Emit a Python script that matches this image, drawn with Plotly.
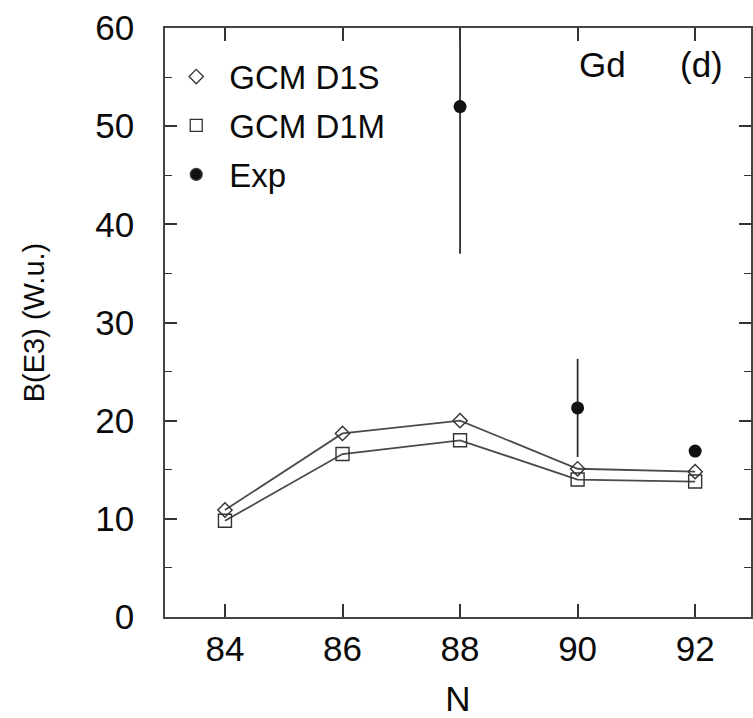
import plotly.graph_objects as go

N = [84, 86, 88, 90, 92]
gcm_d1s = [10.9, 18.7, 20.0, 15.1, 14.8]
gcm_d1m = [9.8, 16.6, 18.0, 14.0, 13.8]
exp_N = [88, 90, 92]
exp_val = [52.0, 21.3, 16.9]
exp_err = [15.0, 5.0, 0.0]

FONT = "Liberation Sans, Arial, sans-serif"
LINE = "#4a4a4a"
TXT = "#0a0a0a"

fig = go.Figure()
fig.add_trace(go.Scatter(x=N, y=gcm_d1s, mode="lines+markers", name="GCM D1S",
                         line=dict(color=LINE, width=1.8),
                         marker=dict(symbol="diamond-open", size=11, color="#333333", line=dict(width=1.4)),
                         showlegend=False))
fig.add_trace(go.Scatter(x=N, y=gcm_d1m, mode="lines+markers", name="GCM D1M",
                         line=dict(color=LINE, width=1.8),
                         marker=dict(symbol="square-open", size=13, color="#333333", line=dict(width=1.4)),
                         showlegend=False))
fig.add_trace(go.Scatter(x=exp_N, y=exp_val, mode="markers", name="Exp",
                         marker=dict(symbol="circle", size=13, color="#111111"),
                         error_y=dict(type="data", array=exp_err, visible=True, width=0,
                                      thickness=1.7, color="#222222"),
                         showlegend=False))
# legend-only entries (markers without lines)
for name, sym, sz in [("GCM D1S", "diamond-open", 11), ("GCM D1M", "square-open", 12), ("Exp", "circle", 12)]:
    fig.add_trace(go.Scatter(x=[None], y=[None], mode="markers", name=name,
                             marker=dict(symbol=sym, size=sz, color="#111111" if sym == "circle" else "#333333",
                                         line=dict(width=1.3)),
                             legendgroup=name, showlegend=True))

fig.add_annotation(x=90.42, y=56.3, xref="x", yref="y", text="Gd", showarrow=False,
                   font=dict(family=FONT, size=35, color=TXT), xanchor="center", yanchor="middle")
fig.add_annotation(x=92.1, y=56.3, xref="x", yref="y", text="(d)", showarrow=False,
                   font=dict(family=FONT, size=35, color=TXT), xanchor="center", yanchor="middle")

fig.update_layout(
    width=753, height=718,
    margin=dict(l=165, r=0, t=28, b=101),
    paper_bgcolor="white", plot_bgcolor="white",
    font=dict(family=FONT, color=TXT),
    legend=dict(x=-0.003, y=0.965, xanchor="left", yanchor="top", bgcolor="rgba(0,0,0,0)",
                font=dict(family=FONT, size=33, color=TXT), tracegroupgap=3,
                traceorder="grouped", itemwidth=56),
)
fig.update_xaxes(range=[82.98, 92.95], tickvals=N, ticktext=[str(v) for v in N],
                 ticks="inside", ticklen=13, tickwidth=1.6, tickcolor="#333333",
                 showline=True, linecolor="#444444", linewidth=1.6, mirror="ticks",
                 showgrid=False, zeroline=False,
                 tickfont=dict(family=FONT, size=35, color=TXT),
                 title=dict(text="N", font=dict(family=FONT, size=35, color=TXT), standoff=22))
fig.update_yaxes(range=[0, 60], dtick=10, tick0=0,
                 ticks="inside", ticklen=12, tickwidth=1.6, tickcolor="#333333",
                 minor=dict(dtick=5, ticks="inside", ticklen=7, tickwidth=1.4, tickcolor="#333333"),
                 showline=True, linecolor="#444444", linewidth=1.6, mirror="ticks",
                 showgrid=False, zeroline=False, ticklabelstandoff=22,
                 tickfont=dict(family=FONT, size=35, color=TXT),
                 title=dict(text="B(E3) (W.u.)", font=dict(family=FONT, size=29, color=TXT), standoff=42))

fig.write_html("out.html")
